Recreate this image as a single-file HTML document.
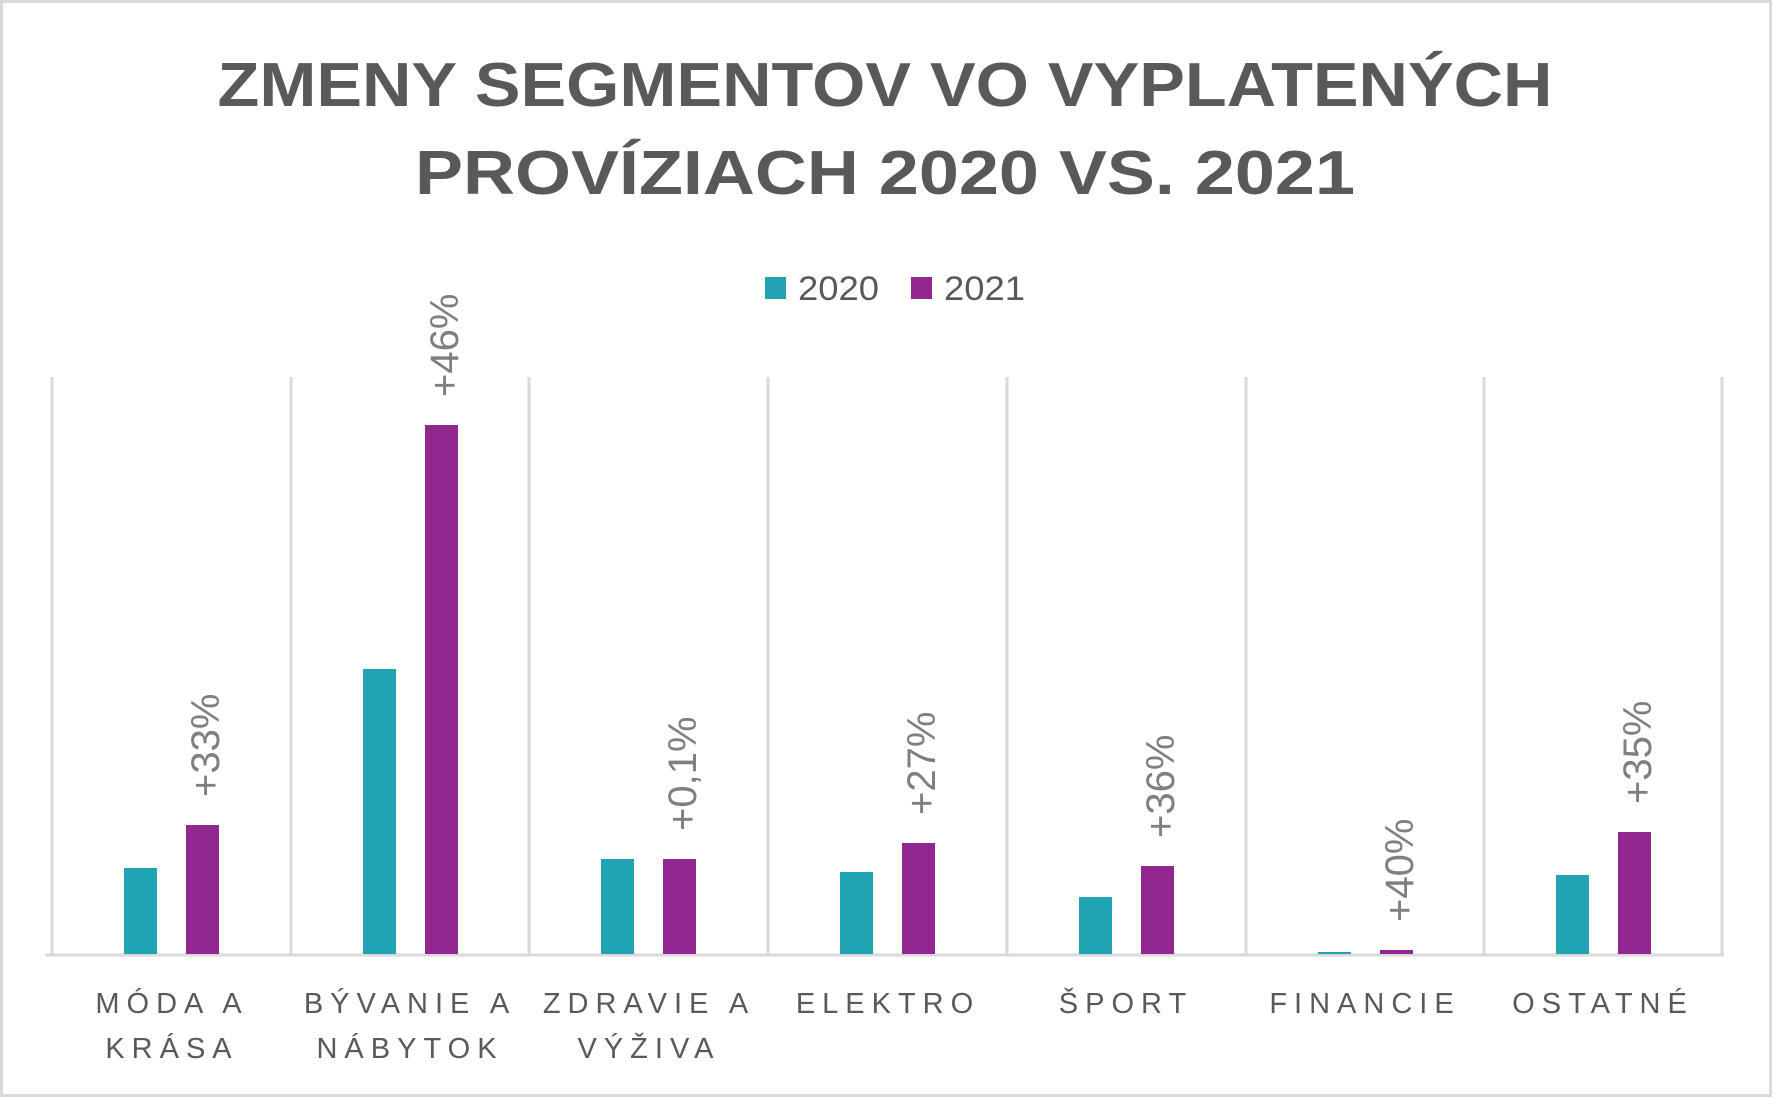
<!DOCTYPE html>
<html><head><meta charset="utf-8"><style>
html,body{margin:0;padding:0;background:#fff}
svg{display:block}
text{font-family:"Liberation Sans",sans-serif}
</style></head><body>
<svg width="1774" height="1099" viewBox="0 0 1774 1099" xmlns="http://www.w3.org/2000/svg">
<rect x="1.5" y="1.5" width="1769" height="1094" fill="#fff" stroke="#d9d9d9" stroke-width="3"/>
<g fill="#595959" font-weight="bold" font-size="62" text-anchor="middle">
<text x="885" y="106" textLength="1335" lengthAdjust="spacingAndGlyphs">ZMENY SEGMENTOV VO VYPLATENÝCH</text>
<text x="885" y="194" textLength="940" lengthAdjust="spacingAndGlyphs">PROVÍZIACH 2020 VS. 2021</text>
</g>
<rect x="765" y="277" width="21" height="22" fill="#20a4b4"/>
<text x="798" y="300" font-size="34" fill="#595959" textLength="81" lengthAdjust="spacingAndGlyphs">2020</text>
<rect x="911" y="277" width="21" height="22" fill="#92278f"/>
<text x="944" y="300" font-size="34" fill="#595959" textLength="81" lengthAdjust="spacingAndGlyphs">2021</text>
<g stroke="#d9d9d9" stroke-width="3">
<line x1="52" y1="377" x2="52" y2="955"/><line x1="291" y1="377" x2="291" y2="955"/>
<line x1="529" y1="377" x2="529" y2="955"/><line x1="768" y1="377" x2="768" y2="955"/>
<line x1="1007" y1="377" x2="1007" y2="955"/><line x1="1246" y1="377" x2="1246" y2="955"/>
<line x1="1484" y1="377" x2="1484" y2="955"/><line x1="1722" y1="377" x2="1722" y2="955"/>
<line x1="45" y1="955" x2="1724" y2="955"/>
</g>
<g fill="#20a4b4">
<rect x="124" y="868" width="33" height="86"/>
<rect x="363" y="669" width="33" height="285"/>
<rect x="601" y="859" width="33" height="95"/>
<rect x="840" y="872" width="33" height="82"/>
<rect x="1079" y="897" width="33" height="57"/>
<rect x="1318" y="952" width="33" height="2"/>
<rect x="1556" y="875" width="33" height="79"/>
</g>
<g fill="#92278f">
<rect x="186" y="825" width="33" height="129"/>
<rect x="425" y="425" width="33" height="529"/>
<rect x="663" y="859" width="33" height="95"/>
<rect x="902" y="843" width="33" height="111"/>
<rect x="1141" y="866" width="33" height="88"/>
<rect x="1380" y="950" width="33" height="4"/>
<rect x="1618" y="832" width="33" height="122"/>
</g>
<g fill="#7f7f7f" font-size="40">
<text transform="translate(219,797) rotate(-90)">+33%</text>
<text transform="translate(458,397) rotate(-90)">+46%</text>
<text transform="translate(696,831) rotate(-90)">+0,1%</text>
<text transform="translate(935,815) rotate(-90)">+27%</text>
<text transform="translate(1174,838) rotate(-90)">+36%</text>
<text transform="translate(1413,922) rotate(-90)">+40%</text>
<text transform="translate(1651,804) rotate(-90)">+35%</text>
</g>
<g fill="#595959" font-size="29" text-anchor="middle" letter-spacing="7">
<text x="172" y="1013">MÓDA A</text><text x="172" y="1058">KRÁSA</text>
<text x="410" y="1013">BÝVANIE A</text><text x="410" y="1058">NÁBYTOK</text>
<text x="649" y="1013">ZDRAVIE A</text><text x="649" y="1058">VÝŽIVA</text>
<text x="888" y="1013">ELEKTRO</text>
<text x="1126" y="1013">ŠPORT</text>
<text x="1365" y="1013">FINANCIE</text>
<text x="1603" y="1013">OSTATNÉ</text>
</g>
</svg>
</body></html>
